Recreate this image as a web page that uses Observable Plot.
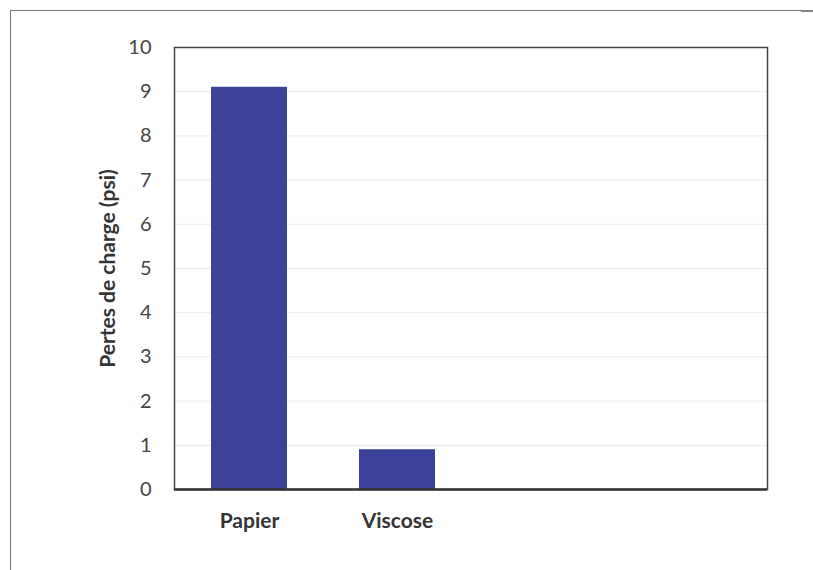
<!DOCTYPE html>
<html>
<head>
<meta charset="utf-8">
<script src="https://cdn.jsdelivr.net/npm/d3@7"></script>
<script src="https://cdn.jsdelivr.net/npm/@observablehq/plot@0.6"></script>
<style>
  html, body { margin: 0; padding: 0; background: #fff; }
  #wrap { position: relative; width: 813px; height: 570px; overflow: hidden; }
  #outer { position: absolute; left: 10px; top: 10px; width: 790px; height: 570px;
           border-top: 1.5px solid #777; border-left: 1.5px solid #777; pointer-events: none; }
  #dash { position: absolute; left: 801px; top: 10px; width: 12px; height: 2px; background: #888; }
</style>
</head>
<body>
<div id="wrap">
  <div id="chart"></div>
  <div id="outer"></div>
  <div id="dash"></div>
</div>
<script>
// Data
const categories = ["Papier", "Viscose"];
const values = [9.1, 0.9];
const emptySlots = ["slot3", "slot4"]; // unused category slots on the axis
const yTicks = [0, 1, 2, 3, 4, 5, 6, 7, 8, 9, 10];
const yLabel = "Pertes de charge (psi)";

const data = categories.map((c, i) => ({ cat: c, value: values[i] }));
const xDomain = categories.concat(emptySlots);

const chart = Plot.plot({
  width: 813,
  height: 570,
  marginLeft: 174,
  marginRight: 46,
  marginTop: 47,
  marginBottom: 81,
  style: { fontFamily: "Lato, 'Open Sans', sans-serif", background: "transparent" },
  x: { domain: xDomain, paddingInner: 0.487, paddingOuter: 0.2435 },
  y: { domain: [0, 10] },
  marks: [
    Plot.gridY(yTicks, { stroke: "#ececec", strokeOpacity: 1 }),
    Plot.barY(data, { x: "cat", y: "value", fill: "#3b4199" }),
    Plot.frame({ stroke: "#444", strokeWidth: 1.5 }),
    Plot.ruleY([0], { stroke: "#333", strokeWidth: 2.5 }),
    Plot.axisY({
      ticks: yTicks,
      tickSize: 0,
      tickPadding: 23,
      fontSize: 20,
      fill: "#444",
      label: yLabel,
      labelAnchor: "center",
      labelArrow: "none",
      labelOffset: 74
    }),
    Plot.axisX({
      tickSize: 0,
      tickPadding: 24,
      fontSize: 21,
      fontWeight: "bold",
      fill: "#333",
      tickFormat: d => categories.includes(d) ? d : "",
      label: null
    })
  ]
});
document.getElementById("chart").appendChild(chart);
// style the y-axis label
chart.querySelectorAll("[aria-label='y-axis label'] text, [aria-label='y-axis label']").forEach(el => {
  el.setAttribute("font-weight", "bold");
  el.setAttribute("font-size", "21");
  el.setAttribute("fill", "#333");
});
</script>
</body>
</html>
